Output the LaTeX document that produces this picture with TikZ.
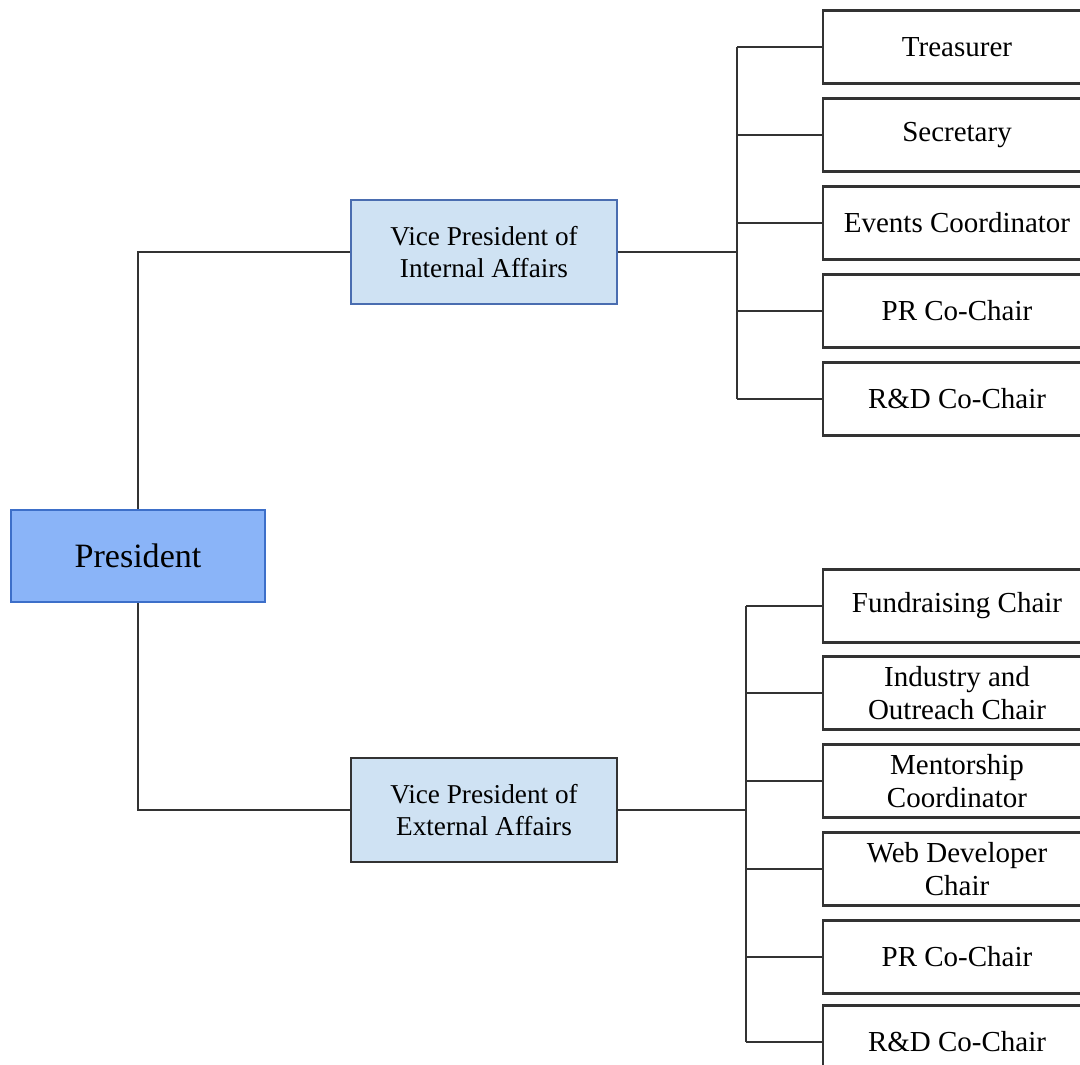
\documentclass[tikz,border=0pt]{standalone}
\usepackage{fontspec}
\setmainfont{Liberation Serif}
\usetikzlibrary{positioning}

\definecolor{presfill}{HTML}{8AB4F8}
\definecolor{presedge}{HTML}{3D6FC9}
\definecolor{vpfill}{HTML}{CFE2F3}
\definecolor{vpedge}{HTML}{4A6DB0}
\definecolor{inkgray}{HTML}{333333}

\begin{document}
\begin{tikzpicture}[
		x=0.02cm, y=-0.02cm,
		line width=1.1pt,
		ChairCfg/.style={
			draw=inkgray, fill=white, line width=1.2pt,
			minimum width=5.36cm, minimum height=1.46cm,
			inner sep=0pt, align=center,
			font=\fontsize{16.5}{18.7}\selectfont
		},
		VPCfg/.style={
			draw=inkgray, fill=vpfill, line width=1.2pt,
			minimum width=5.32cm, minimum height=2.08cm,
			inner sep=0pt, align=center,
			font=\fontsize{15.5}{18.2}\selectfont
		},
		PresCfg/.style={
			draw=presedge, fill=presfill, line width=1.2pt,
			minimum width=5.08cm, minimum height=1.84cm,
			inner sep=0pt,
			font=\fontsize{19.4}{22}\selectfont
		}
		]
		
		\useasboundingbox (0,0) rectangle (1080,1065);
		\clip (0,0) rectangle (1080,1065);
		
		\path 
		(138,556) node [PresCfg] (pres) {President}
		(484,252) node [VPCfg, draw=vpedge] (vpint) {Vice President of\\Internal Affairs}
		(484,810) node [VPCfg] (vpext) {Vice President of\\External Affairs};
		
		\path
		(957,47) node [ChairCfg] (treas) {Treasurer}
		++ (0,88) node [ChairCfg] (secr) {Secretary}
		++ (0,88) node [ChairCfg] (events) {Events Coordinator}
		++ (0,88) node [ChairCfg] (print) {PR Co-Chair}
		++ (0,88) node [ChairCfg] (rdint) {R\&D Co-Chair};
		
		\path
		(957,606) node [ChairCfg] (fund) {Fundraising Chair}
		++ (0,87) node [ChairCfg] (industry) {Industry and\\Outreach Chair}
		++ (0,88) node [ChairCfg] (mentor) {Mentorship\\Coordinator}
		++ (0,88) node [ChairCfg] (webdev) {Web Developer\\Chair}
		++ (0,88) node [ChairCfg] (prext) {PR Co-Chair}
		++ (0,85) node [ChairCfg] (rdext) {R\&D Co-Chair};
		
		\coordinate (busint) at (737,252);
		\coordinate (busext) at (746,810);
		
		\draw [inkgray]
		(pres.north) |- (vpint.west)
		(pres.south) |- (vpext.west)
		
		(vpint.east) -- (busint)
		(busint |- treas.west) -- (busint |- rdint.west)
		
		(vpext.east) -- (busext)
		(busext |- fund.west) -- (busext |- rdext.west);
		
		\foreach \n in {treas, secr, events, print, rdint}
		\draw [inkgray] (busint |- \n.west) -- (\n.west);
		\foreach \n in {fund, industry, mentor, webdev, prext, rdext}
		\draw [inkgray] (busext |- \n.west) -- (\n.west);
		\end{tikzpicture}
\end{document}
